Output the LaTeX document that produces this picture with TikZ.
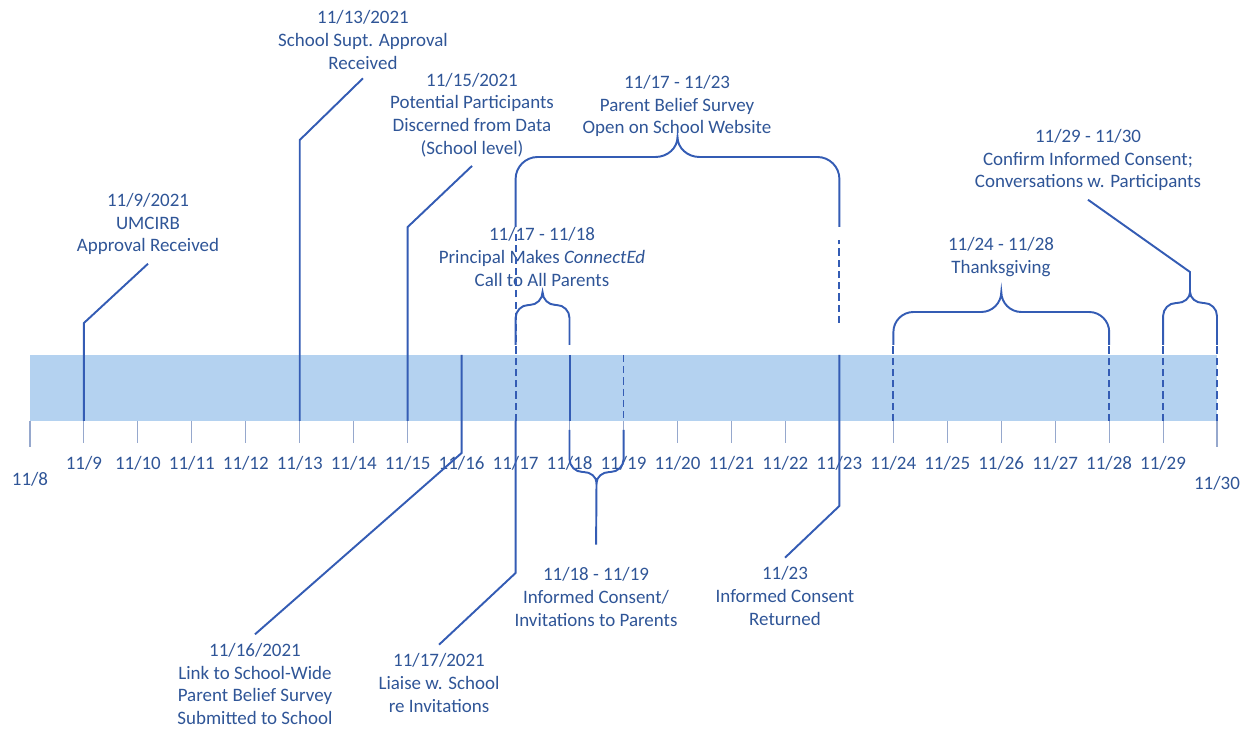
\documentclass[tikz,border=0pt]{standalone}
\usepackage{fontspec}
\setmainfont{Carlito}
\usetikzlibrary{calc}

\definecolor{txtblue}{RGB}{47,85,151}
\definecolor{lineblue}{RGB}{52,92,180}
\definecolor{barblue}{RGB}{180,210,240}
\definecolor{tickgray}{RGB}{150,168,205}

% brace: x1, x2, y of side ends, y of bar, y of tip, corner radius
\newcommand{\timebrace}[6]{%
  \pgfmathsetmacro{\bm}{(#1+#2)/2}%
  \pgfmathsetmacro{\bd}{#3>#4 ? #6 : -#6}%
  \pgfmathsetmacro{\be}{#5-#4}%
  \draw[conn] (#1,#3) -- (#1,#4+\bd) .. controls (#1,#4+0.45*\bd) and (#1+0.45*#6,#4) .. (#1+#6,#4)
    -- (\bm-#6,#4) .. controls (\bm-0.45*#6,#4) and (\bm,#4+0.45*\be) .. (\bm,#5)
    .. controls (\bm,#4+0.45*\be) and (\bm+0.45*#6,#4) .. (\bm+#6,#4)
    -- (#2-#6,#4) .. controls (#2-0.45*#6,#4) and (#2,#4+0.45*\bd) .. (#2,#4+\bd) -- (#2,#3);
}

\begin{document}
\begin{tikzpicture}[x=0.02cm, y=-0.02cm,
  conn/.style={draw=lineblue, line width=1.1pt},
  dsh/.style={draw=lineblue, line width=1.1pt, dash pattern=on 4pt off 2.4pt},
  lbl/.style={text=txtblue, align=center, font=\fontsize{10.8}{13}\selectfont, inner sep=0pt, outer sep=5pt},
  day/.style={text=txtblue, font=\fontsize{10.8}{13}\selectfont, inner sep=0pt}]
\useasboundingbox (0,0) rectangle (1252,732);

% timeline bar and days
\fill[barblue] (30,355) rectangle (1217,421);
\foreach \d in {8,...,30}{
  \coordinate (t\d) at ({30+(\d-8)*53.955},355);
  \coordinate (b\d) at ({30+(\d-8)*53.955},421);
}
\foreach \d in {9,...,29}{
  \draw[tickgray, line width=0.6pt] (b\d) -- ++(0,22);
  \node[day] (n\d) at ($(b\d)+(0,42)$) {11/\d};
}
\draw[tickgray, line width=0.6pt] (b8) -- ++(0,26) (b30) -- ++(0,26);
\node[day] (n8) at ($(b8)+(0,58)$) {11/8};
\node[day] (n30) at ($(b30)+(0,62)$) {11/30};

% labels above
\node[lbl] (L9) at (148,224) {11/9/2021\\UMCIRB\\Approval Received};
\node[lbl] (L13) at (363,40) {11/13/2021\\School Supt. Approval\\Received};
\node[lbl] (L15) at (472,115) {11/15/2021\\Potential Participants\\Discerned from Data\\(School level)};
\node[lbl] (Lsurvey) at (677,106) {11/17 - 11/23\\Parent Belief Survey\\Open on School Website};
\node[lbl] (Lcall) at (542,257) {11/17 - 11/18\\Principal Makes \textit{ConnectEd}\\Call to All Parents};
\node[lbl] (Lthanks) at (1001,257) {11/24 - 11/28\\Thanksgiving};
\node[lbl] (Lconfirm) at (1088,160) {11/29 - 11/30\\Confirm Informed Consent;\\Conversations w. Participants};

% labels below
\node[lbl] (L16) at (255,684) {11/16/2021\\Link to School-Wide\\Parent Belief Survey\\Submitted to School};
\node[lbl] (L17) at (439,683) {11/17/2021\\Liaise w. School\\re Invitations};
\node[lbl] (Linvite) at (596,597) {11/18 - 11/19\\Informed Consent/\\Invitations to Parents};
\node[lbl] (L23) at (785,596) {11/23\\Informed Consent\\Returned};

% braces
\timebrace{515.6}{839.4}{227}{157}{137}{22}
\timebrace{515.6}{569.5}{345}{305}{292}{13}
\timebrace{893.4}{1109.2}{345}{312}{292}{20}
\timebrace{1163.1}{1217}{345}{303}{292}{13}
\timebrace{569.5}{623.6}{430}{472}{483}{13}
\coordinate (tipC) at (1190,292);
\coordinate (tipI) at (596.5,483);

% dashed marks
\draw[dsh] (b17) -- ++(0,-188);
\draw[dsh] (t23) ++(0,-32) -- ++(0,-83);
\draw[dsh] (t19) -- (b19);
\foreach \d in {24,28,29,30} \draw[dsh] (b\d) -- ++(0,-76);

% connectors
\draw[conn] (b9) -- ++(0,-98) -- (L9.south);
\draw[conn] (b13) -- ++(0,-281) -- (L13.south);
\draw[conn] (b15) -- ++(0,-194) -- (L15.south);
\draw[conn] (t16) -- ++(0,98) -- (L16.north);
\draw[conn] (b17) -- ++(0,152) -- (L17.north);
\draw[conn] (t18) -- (b18);
\draw[conn] (t23) -- ++(0,151) -- (L23.north);
\draw[conn] (tipC) -- ++(0,-20) -- (Lconfirm.south);
\draw[conn, shorten >=8pt] (tipI) -- (Linvite.north);
\end{tikzpicture}
\end{document}
